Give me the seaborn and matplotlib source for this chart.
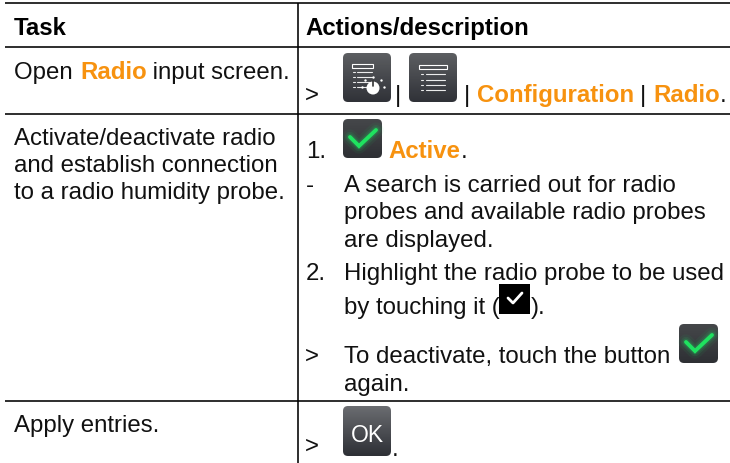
import numpy as np
import seaborn as sns
import matplotlib.pyplot as plt
from matplotlib.patches import FancyBboxPatch, Circle, Rectangle

# Table text
HEADERS = ["Task", "Actions/description"]
OPEN_TASK = ["Open ", "Radio", " input screen."]
ACTIVATE_TASK = ["Activate/deactivate radio", "and establish connection", "to a radio humidity probe."]
APPLY_TASK = "Apply entries."
MENU_PATH = ["Configuration", "Radio"]
ACTIVE_LABEL = "Active"
SEARCH_LINES = ["A search is carried out for radio", "probes and available radio probes", "are displayed."]
HIGHLIGHT_LINES = ["Highlight the radio probe to be used", "by touching it ("]
DEACTIVATE_LINES = ["To deactivate, touch the button", "again."]

ORANGE = "#F7920F"
TEXT = "#111111"
FS = 17.3

sns.set_theme(style="white", rc={"font.family": ["Liberation Sans", "DejaVu Sans"]})

fig = plt.figure(figsize=(7.30, 4.64), dpi=100)
ax = fig.add_axes([0, 0, 1, 1])
ax.axis("off")


def put(x, y, s, color=TEXT, weight="normal", size=FS):
    ax.text(x, y, s, color=color, fontweight=weight, fontsize=size, va="baseline", ha="left")


def button(x0, y0, x1, y1, top, bottom):
    # rounded button filled with a vertical gradient
    colors = np.array(sns.blend_palette([top, bottom], 32))[:, None, :]
    im = ax.imshow(colors, extent=[x0, x1, y1, y0], aspect="auto", zorder=2)
    patch = FancyBboxPatch((x0 + 4, y0 + 4), x1 - x0 - 8, y1 - y0 - 8,
                           boxstyle="round,pad=4,rounding_size=5", fc="none", ec="none",
                           transform=ax.transData)
    ax.add_patch(patch)
    im.set_clip_path(patch)


def check_button(x0, y0):
    button(x0, y0, x0 + 39, y0 + 39, "#45474a", "#2e3034")
    xs = np.array([7, 16, 33]) + x0
    ys = np.array([18, 27, 11]) + y0
    # soft glow round the tick
    for lw, alpha in [(11, 0.07), (7.5, 0.12), (5, 0.2)]:
        ax.plot(xs, ys, color="#20c860", lw=lw, alpha=alpha, zorder=3, solid_capstyle="round")
    ax.plot(xs, ys, color="#1fe25f", lw=2.8, zorder=4, solid_joinstyle="miter")


def list_lines(x_dot, x0, x1, ys, lw=0.8):
    for y in ys:
        ax.plot([x_dot, x_dot + 1.5], [y, y], color="white", lw=lw, alpha=0.9, zorder=4)
        ax.plot([x0, x1], [y, y], color="white", lw=lw, alpha=0.9, zorder=4)


# grid lines
for y in [4, 48, 115, 402]:
    ax.plot([5, 730], [y, y], color="black", lw=1.15, zorder=1, solid_capstyle="butt")
ax.plot([298, 298], [4, 464], color="black", lw=1.15, zorder=1, solid_capstyle="butt")

# header
put(14, 35, HEADERS[0], color="black", weight="bold")
put(305, 35, HEADERS[1], color="black", weight="bold")

# left column
put(14, 79, OPEN_TASK[0])
put(80, 79, OPEN_TASK[1], color=ORANGE, weight="bold")
put(146, 79, OPEN_TASK[2])
for i, line in enumerate(ACTIVATE_TASK):
    put(14, 145 + i * 27, line)
put(14, 432, APPLY_TASK)

# first action row
put(305, 102, ">")
button(343, 54, 391, 103, "#5c5e61", "#303238")
ax.add_patch(Rectangle((352, 65), 21, 4, fc="none", ec="white", lw=0.8, zorder=4))
list_lines(353, 357, 372, [73, 78, 83, 88])
ax.add_patch(Circle((373, 89), 6.5, fc="white", ec="none", zorder=5))
ax.plot([373, 373], [82, 87], color="#333333", lw=1.2, zorder=6)
ax.scatter([362, 365, 373, 381, 384], [88, 81, 78, 81, 88], s=3, color="white", zorder=5, linewidths=0)
put(395, 102, "|")
button(409, 54, 457, 103, "#5c5e61", "#303238")
ax.add_patch(Rectangle((419, 65.5), 28, 4, fc="none", ec="white", lw=0.8, zorder=4))
list_lines(421, 426, 445, [75, 81, 86, 91])
put(464, 102, "|")
put(477, 102, MENU_PATH[0], color=ORANGE, weight="bold")
put(640, 102, "|")
put(653, 102, MENU_PATH[1], color=ORANGE, weight="bold")
put(720, 102, ".")

# second action row
put(306, 158, "1.")
check_button(343, 120)
put(388, 158, ACTIVE_LABEL, color=ORANGE, weight="bold")
put(461, 158, ".")
put(306, 192, "-")
for i, line in enumerate(SEARCH_LINES):
    put(344, 192 + i * 27.5, line)
put(306, 280, "2.")
put(344, 280, HIGHLIGHT_LINES[0])
put(344, 314, HIGHLIGHT_LINES[1])
ax.add_patch(Rectangle((499, 285), 31, 30, fc="black", ec="none", zorder=3))
ax.plot([508, 513, 522], [299, 304, 294], color="white", lw=2, zorder=4)
put(531, 314, ").")
put(305, 363, ">")
put(344, 363, DEACTIVATE_LINES[0])
check_button(679, 325)
put(344, 391, DEACTIVATE_LINES[1])

# last row
put(305, 453, ">")
button(343, 407, 391, 457, "#6a6c70", "#2e3036")
ax.text(367, 442, "OK", color="white", fontsize=16.5, ha="center", va="baseline", zorder=5)
put(392, 456, ".")

ax.set_xlim(0, 730)
ax.set_ylim(464, 0)
sns.despine(ax=ax, left=True, bottom=True)
fig.savefig("out.png", dpi=100, facecolor="white")
